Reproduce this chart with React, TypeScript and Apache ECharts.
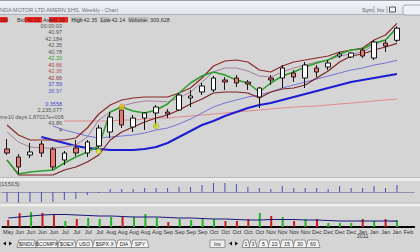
import React, { useEffect, useRef } from 'react';
import * as echarts from 'echarts';

// ---------- data ----------
const weekLabels = ['May','Jun','Jun','Jun','Jun','Jul','Jul','Jul','Jul','Aug','Aug','Aug','Aug','Aug','Sep','Sep','Sep','Sep','Oct','Oct','Oct','Oct','Oct','Nov','Nov','Nov','Nov','Dec','Dec','Dec','Dec','Jan','Jan','Jan','Jan','Feb'];
const yearLabel = { index: 31, text: '2011' };

// [open, close, low, high]
const candles = [
  [30.1,29.7,29.5,31.1],[29.3,28.3,27.6,29.6],[29.5,29.8,29.2,30.7],[30.6,29.7,29.3,30.9],
  [30.1,28.3,28.0,30.3],[29.0,29.7,28.5,29.9],[30.2,29.7,29.4,31.0],[29.7,30.8,29.3,31.0],
  [30.4,32.2,30.0,32.5],[31.8,33.3,31.2,33.8],[34.0,32.5,32.2,34.3],[32.3,33.2,31.8,33.5],
  [33.2,33.7,32.0,33.8],[33.7,34.3,32.3,34.5],[33.8,33.6,33.2,34.1],[34.0,35.5,33.9,35.7],
  [35.2,35.4,34.3,36.0],[35.8,36.4,35.5,36.7],[36.0,37.2,35.8,37.4],[37.0,36.8,36.0,37.3],
  [37.2,36.7,36.3,37.5],[36.8,36.6,36.0,37.0],[35.3,36.2,34.2,36.3],[37.2,37.0,36.5,37.5],
  [37.2,38.2,36.2,38.5],[37.7,37.3,36.8,38.0],[37.2,38.5,36.2,38.8],[38.2,37.8,37.3,38.5],
  [38.3,38.7,38.0,39.0],[39.4,39.6,39.2,39.8],[39.3,39.7,39.2,39.8],[40.0,39.4,39.2,40.2],
  [39.2,40.8,39.0,41.0],[40.7,40.4,39.8,41.0],[40.97,42.184,40.78,42.35],
];
const greenLine = [29.0,27.6,27.8,27.9,28.0,28.7,29.3,29.8,30.4,33.8,34.3,33.9,33.7,34.0,34.6,35.7,36.7,37.4,37.8,37.5,37.0,36.7,35.8,36.7,37.4,37.8,38.3,38.7,39.0,39.6,40.0,40.1,40.7,41.0,42.2];
const upperBand = [32.5,31.5,31.0,31.0,31.0,31.0,31.2,32.2,33.6,34.5,35.0,35.2,35.3,35.3,35.3,35.7,36.2,37.2,38.4,38.9,39.0,38.8,38.0,37.8,38.4,38.8,39.0,39.2,39.4,39.8,40.0,40.2,41.0,41.5,42.66];
const upperInner = [31.8,30.8,30.3,30.2,30.2,30.3,30.5,31.3,33.0,33.8,34.4,34.7,34.9,34.9,34.8,35.2,35.8,36.8,37.8,38.2,38.2,37.9,37.4,37.3,37.8,38.2,38.5,38.8,39.0,39.4,39.6,39.8,40.5,41.0,42.36];
const lowerBand = [29.0,27.5,27.5,27.5,27.5,28.0,28.3,28.8,29.5,31.0,31.8,32.3,32.8,33.2,33.5,34.0,34.6,35.1,35.7,35.8,35.8,35.7,35.2,35.8,36.1,36.2,36.5,37.2,37.9,38.8,39.4,39.6,40.0,40.3,40.66];
const maFast = ['-','-','-','-',32.4,32.0,31.7,31.4,31.2,31.3,31.4,31.5,31.7,32.0,32.2,32.6,33.1,33.7,34.3,34.7,35.0,35.3,35.5,35.8,36.2,36.5,36.8,37.1,37.4,37.7,38.0,38.2,38.5,38.7,38.97];
const maMid = ['-','-','-',31.3,31.0,30.7,30.4,30.2,30.1,30.0,30.0,30.0,30.1,30.3,30.7,31.3,31.9,32.5,32.9,33.4,33.8,34.2,34.5,34.7,35.0,35.3,35.6,35.9,36.2,36.5,36.8,37.0,37.2,37.4,37.59];
const maSlow = ['-','-','-','-','-',32.9,32.9,32.9,32.9,32.9,33.0,33.0,33.1,33.2,33.2,33.3,33.4,33.5,33.6,33.7,33.8,33.9,34.0,34.1,34.2,34.3,34.35,34.4,34.5,34.6,34.7,34.8,34.9,35.0,35.1];
const oscillator = [-0.5,-0.55,-0.5,-0.5,-0.5,-0.4,-0.35,-0.15,-0.05,0.15,0.15,0.15,0.2,0.2,0.2,0.25,0.25,0.35,0.45,0.45,0.4,0.25,0.2,0.15,0.3,0.2,0.2,0.2,0.15,0.3,0.2,0.2,0.3,0.2,0.3558];
const volumeM = [2.24,4.48,4.8,4.48,4.16,1.92,2.56,2.88,2.56,3.2,3.2,3.2,4.16,2.88,1.6,2.56,2.24,2.88,2.56,1.92,1.92,2.56,4.48,3.52,3.2,1.92,2.56,2.56,1.28,1.28,1.28,2.56,1.92,2.56,2.235];
const volumeMA = [2.88,3.2,3.52,3.84,4.0,4.0,3.84,3.68,3.52,3.52,3.36,3.2,3.2,3.2,3.04,2.88,2.88,2.72,2.56,2.56,2.4,2.24,2.24,2.4,2.4,2.4,2.24,2.24,2.08,1.92,1.92,1.92,1.92,1.92,1.87];
const signalIdx = [8, 10, 13];
const signalPrice = [29.9, 34.3, 32.4];
const signalColor = ['#d6ee22', '#f2c21c', '#cde62e'];

const overlayRows = [
  { text: '00:00:00', color: '#555' },
  { text: '40.97', color: '#555' },
  { text: '42.184', color: '#555' },
  { text: '42.35', color: '#555' },
  { text: '40.78', color: '#555' },
  { text: '42.20', color: '#2f9a2f' },
  { text: '40.66', color: '#b04444' },
  { text: '42.36', color: '#b05a5a' },
  { text: '42.66', color: '#8a3434' },
  { text: '37.59', color: '#4a4ac8' },
  { text: '38.97', color: '#6666c8' },
];
const overlayRows2 = [
  { text: '0.3558', color: '#4a4ac8' },
  { text: '2,235,077', color: '#555' },
];
const leftTabs = ['$INDU', '$COMPX', '$OEX', 'USO', '$SPX.X', 'DIA', 'SPY'];
const rightTabs = ['1', '3', '5', '10', '15', '30', '60'];

// ---------- style ----------
const FONT = '"Liberation Sans", Arial, sans-serif';
const BG = '#d5d5d5';
const GL = 1.27;
const GW = 412.9;

function txt(x: number, y: number, text: string, fill: string, align = 'left', size = 5.5, extra: any = {}) {
  return {
    type: 'text', x, y, z: 60,
    style: { text, fill, fontSize: size, fontFamily: FONT, textAlign: align, align, textVerticalAlign: 'middle', verticalAlign: 'middle', ...extra },
  };
}

function buildGraphics() {
  const g: any[] = [];
  // title bar
  g.push({ type: 'rect', z: 40, shape: { x: 0, y: 0, width: 420, height: 15 },
    style: { fill: new echarts.graphic.LinearGradient(0, 0, 0, 1, [{ offset: 0, color: '#f4f6f8' }, { offset: 1, color: '#dfe3e8' }]) } });
  g.push({ type: 'line', z: 41, shape: { x1: 0, y1: 0.5, x2: 420, y2: 0.5 }, style: { stroke: '#97a0aa', lineWidth: 1 } });
  g.push({ type: 'line', z: 41, shape: { x1: 0, y1: 14.5, x2: 420, y2: 14.5 }, style: { stroke: '#aab2bb', lineWidth: 1 } });
  g.push(txt(0, 9.5, 'NDA MOTOR LTD AMERN SHS, Weekly - Chart', '#6e7883'));
  g.push(txt(362, 9.5, 'Sym', '#555'));
  g.push({ type: 'line', z: 41, shape: { x1: 374, y1: 6, x2: 374, y2: 13 }, style: { stroke: '#a5adb5', lineWidth: 1 } });
  g.push(txt(377, 9.5, 'Inv', '#555'));
  g.push({ type: 'line', z: 41, shape: { x1: 387, y1: 6, x2: 387, y2: 13 }, style: { stroke: '#a5adb5', lineWidth: 1 } });
  g.push({ type: 'rect', z: 41, shape: { x: 389.5, y: 7, width: 6, height: 5 }, style: { fill: '#f2f2f2', stroke: '#333', lineWidth: 0.8 } });
  g.push({ type: 'rect', z: 41, shape: { x: 403, y: 5, width: 25, height: 10, r: 2 }, style: { fill: '#eef2f6', stroke: '#8c9aa8', lineWidth: 0.8 } });

  // info bar
  g.push({ type: 'rect', z: 41, shape: { x: 0, y: 17, width: 7.5, height: 5.5 }, style: { fill: '#e8241e' } });
  g.push(txt(0, 19.8, '164', '#7a0c0c', 'left', 5));
  g.push(txt(17, 19.8, 'Bid', '#333'));
  g.push({ type: 'rect', z: 41, shape: { x: 25, y: 17, width: 17, height: 5.5 }, style: { fill: '#e8241e' } });
  g.push(txt(27, 19.8, '42.15', '#7a0c0c', 'left', 5));
  g.push(txt(43, 19.8, 'Ask', '#333'));
  g.push({ type: 'rect', z: 41, shape: { x: 49, y: 17, width: 19, height: 5.5 }, style: { fill: '#e8241e' } });
  g.push(txt(52, 19.8, '42.19', '#7a0c0c', 'left', 5));
  g.push({ type: 'rect', z: 41, shape: { x: 71, y: 17, width: 11, height: 5.5 }, style: { fill: '#bcbcbc' } });
  g.push(txt(71.5, 19.8, 'High', '#333'));
  g.push(txt(83.5, 19.8, '42.35', '#333'));
  g.push({ type: 'rect', z: 41, shape: { x: 100, y: 17, width: 10, height: 5.5 }, style: { fill: '#bcbcbc' } });
  g.push(txt(100.5, 19.8, 'Low', '#333'));
  g.push(txt(111.5, 19.8, '42.14', '#333'));
  g.push({ type: 'rect', z: 41, shape: { x: 128, y: 17, width: 20.5, height: 5.5 }, style: { fill: '#bcbcbc' } });
  g.push(txt(128.5, 19.8, 'Volume', '#333'));
  g.push(txt(150, 19.8, '309,628', '#333'));

  // data window overlay
  overlayRows.forEach((r, i) => g.push(txt(62, 25.5 + i * 6.55, r.text, r.color, 'right')));
  overlayRows2.forEach((r, i) => g.push(txt(62, 103.5 + i * 6.6, r.text, r.color, 'right')));
  g.push(txt(0, 116.8, 'me10 days:1.87017e+006', '#555'));
  g.push(txt(62, 123.2, '43.86', '#555', 'right'));
  g.push(txt(62, 129.5, '4', '#555', 'right'));

  // separators
  [177.5, 203].forEach((y) => {
    g.push({ type: 'rect', z: 45, shape: { x: 0, y, width: 420, height: 3.5 }, style: { fill: '#ececec' } });
    g.push({ type: 'line', z: 46, shape: { x1: 0, y1: y, x2: 420, y2: y }, style: { stroke: '#b2b2b2', lineWidth: 0.8 } });
  });
  g.push(txt(-0.5, 183.6, '(13,50,5)', '#444', 'left', 5));

  // bottom navigation
  const tri = (x: number, dir: number) => ({ type: 'polygon', z: 41,
    shape: { points: dir < 0 ? [[x, 243.5], [x + 3, 241.5], [x + 3, 245.5]] : [[x + 3, 243.5], [x, 241.5], [x, 245.5]] },
    style: { fill: '#111' } });
  g.push(tri(3, -1));
  g.push(tri(9, 1));
  const tabPos = [[17, 35.5], [35.5, 57.5], [57.5, 75.5], [75.5, 92.5], [92.5, 116], [116, 131], [131, 148]];
  leftTabs.forEach((name, i) => {
    const [a, b] = tabPos[i];
    g.push({ type: 'polygon', z: 41, shape: { points: [[a, 247.5], [a + 2, 240], [b - 1, 240], [b + 1, 247.5]] },
      style: { fill: '#f6f6f6', stroke: '#6a6a6a', lineWidth: 0.7 } });
    g.push(txt((a + b) / 2 + 0.5, 243.8, name, '#222', 'center', 5.2));
  });
  g.push({ type: 'rect', z: 41, shape: { x: 210, y: 240, width: 15, height: 7.5 }, style: { fill: '#efefef', stroke: '#777', lineWidth: 0.7 } });
  g.push(txt(217.5, 243.8, 'Inv', '#222', 'center', 5.2));
  g.push(tri(229, -1));
  g.push(tri(235, 1));
  const rtPos = [[242, 249], [249, 256], [258, 268], [268, 280], [280, 293], [293, 306], [306, 319]];
  rightTabs.forEach((name, i) => {
    const [a, b] = rtPos[i];
    g.push({ type: 'polygon', z: 41, shape: { points: [[a, 247.5], [a + 2, 240], [b - 1, 240], [b + 1, 247.5]] },
      style: { fill: '#f6f6f6', stroke: '#6a6a6a', lineWidth: 0.7 } });
    g.push(txt((a + b) / 2 + 0.5, 243.8, name, '#222', 'center', 5.2));
  });
  return g;
}

export default function App() {
  const ref = useRef<HTMLDivElement>(null);
  useEffect(() => {
    if (!ref.current) return;
    const chart = echarts.init(ref.current, undefined, { renderer: 'svg' });
    const cats = weekLabels.map((_, i) => String(i));
    const lineS = (name: string, data: any[], color: string, width: number, z = 2) => ({
      name, type: 'line', xAxisIndex: 0, yAxisIndex: 0, data, symbol: 'none', z,
      lineStyle: { color, width }, silent: true,
    });
    chart.setOption({
      animation: false,
      backgroundColor: BG,
      textStyle: { fontFamily: FONT },
      grid: [
        { left: GL, width: GW, top: 20, height: 158 },
        { left: GL, width: GW, top: 182, height: 21 },
        { left: GL, width: GW, top: 205, height: 22 },
      ],
      xAxis: [
        { type: 'category', gridIndex: 0, data: cats, show: false },
        { type: 'category', gridIndex: 1, data: cats, axisLine: { show: true, onZero: true, lineStyle: { color: '#7e7eaa', width: 0.8 } },
          axisTick: { show: false }, axisLabel: { show: false }, splitLine: { show: false } },
        { type: 'category', gridIndex: 2, data: cats, axisLine: { show: true, lineStyle: { color: '#000', width: 2 } },
          axisTick: { show: false }, splitLine: { show: false },
          axisLabel: { show: true, interval: 0, fontSize: 5.5, color: '#333', margin: 2.5, lineHeight: 4.6, fontFamily: FONT,
            formatter: (_v: string, i: number) => (i === yearLabel.index ? weekLabels[i] + '\n' + yearLabel.text : weekLabels[i]) } },
      ],
      yAxis: [
        { type: 'value', gridIndex: 0, min: 27.2, max: 43, show: false, splitLine: { show: false } },
        { type: 'value', gridIndex: 1, min: -0.55, max: 0.5, show: false, splitLine: { show: false } },
        { type: 'value', gridIndex: 2, min: 0, max: 7.04, show: false, splitLine: { show: false } },
      ],
      series: [
        lineS('long MA', maSlow, '#e48a8a', 1),
        lineS('MA thick', maMid, '#1c1cd2', 2),
        lineS('MA thin', maFast, '#7474d4', 1),
        lineS('lower band', lowerBand, '#7a2222', 1.2),
        lineS('upper inner', upperInner, '#a67f9c', 1),
        lineS('upper band', upperBand, '#8a2b2b', 1.2),
        lineS('green', greenLine, '#2c9e2c', 1.5),
        {
          type: 'candlestick', xAxisIndex: 0, yAxisIndex: 0, data: candles, barWidth: 5, z: 5,
          itemStyle: { color: '#ffffff', color0: '#e27a78', borderColor: '#111', borderColor0: '#2a1414', borderWidth: 1 },
        },
        {
          type: 'scatter', xAxisIndex: 0, yAxisIndex: 0, z: 6, symbol: 'circle', symbolSize: [5, 6],
          data: signalIdx.map((k, i) => ({ value: [k, signalPrice[i]], itemStyle: { color: signalColor[i], borderColor: '#9a8a10', borderWidth: 0.6 } })),
        },
        {
          type: 'bar', xAxisIndex: 1, yAxisIndex: 1, data: oscillator, barWidth: 1, itemStyle: { color: '#4e4eb4' },
        },
        {
          type: 'bar', xAxisIndex: 2, yAxisIndex: 2, barWidth: 2,
          data: volumeM.map((v, i) => ({ value: v, itemStyle: { color: candles[i][1] >= candles[i][0] ? '#22b422' : '#c81a1a' } })),
        },
        {
          type: 'line', xAxisIndex: 2, yAxisIndex: 2, data: volumeMA, symbol: 'none', z: 4,
          lineStyle: { color: '#1a1a7a', width: 1.2 },
        },
      ],
      graphic: buildGraphics(),
    });
    return () => chart.dispose();
  }, []);
  return <div ref={ref} style={{ position: 'fixed', left: 0, top: 0, width: 420, height: 252 }} />;
}
